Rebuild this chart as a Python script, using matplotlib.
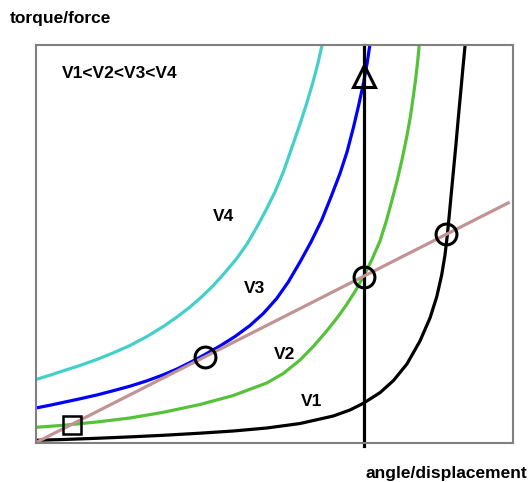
import matplotlib.pyplot as plt

plt.rcParams['font.family'] = ['Liberation Sans', 'DejaVu Sans']

# torque vs angle curves for four speeds (arbitrary units, 0-100)
v4_x = [0, 2.94, 5.72, 9.22, 12.73, 16.14, 19.71, 23.27, 26.69, 29.56, 32.29, 34.80, 37.17,
        39.62, 42.08, 44.23, 46.44, 48.22, 50.10, 51.85, 53.46, 55.35, 56.71, 58.13, 59.12, 60.02]
v4_y = [15.83, 16.91, 18.02, 19.35, 20.85, 22.49, 24.37, 26.63, 29.15, 31.53, 34.05, 36.68, 39.45,
        42.71, 46.23, 49.87, 54.40, 58.42, 62.94, 67.96, 73.49, 80.03, 85.05, 90.83, 95.35, 100.13]

v3_x = [0, 2.94, 5.72, 9.22, 12.73, 16.14, 19.71, 23.27, 26.69, 29.56, 32.29, 35.43, 38.57, 41.72, 44.86,
        47.65, 50.46, 52.89, 55.35, 57.65, 59.90, 61.84, 63.73, 65.20, 66.52, 67.61, 68.62, 69.39, 70.02]
v3_y = [8.67, 9.37, 10.08, 10.98, 11.93, 12.99, 14.15, 15.50, 17.01, 18.47, 20.10, 22.11, 24.25, 26.63, 29.40,
        32.41, 36.18, 40.33, 45.35, 50.38, 55.90, 61.68, 67.59, 72.99, 79.02, 84.55, 90.08, 95.10, 100.13]

v2_x = [0, 5.72, 12.73, 19.71, 26.69, 34.38, 41.36, 48.37, 51.85, 55.35, 58.13, 60.94, 63.10, 65.13,
        66.88, 68.62, 70.38, 72.12, 73.38, 74.53, 75.63, 76.67, 77.72, 78.51, 79.14, 79.62, 80.02, 80.36]
v2_y = [3.82, 4.32, 5.15, 6.16, 7.59, 9.55, 11.81, 14.95, 17.34, 20.73, 24.12, 28.02, 31.28, 34.67,
        37.94, 41.66, 45.85, 50.63, 55.40, 60.43, 65.45, 70.73, 76.76, 82.04, 87.31, 91.58, 95.85, 100.13]

v1_x = [0, 5.72, 12.73, 19.71, 26.69, 34.38, 41.36, 48.37, 55.35, 62.33, 65.83, 68.62, 72.16, 74.95,
        77.76, 80.50, 82.60, 84.00, 85.05, 85.74, 86.21, 86.54, 87.21, 88.01, 88.55, 89.02, 89.48, 89.98]
v1_y = [0.55, 0.75, 1.06, 1.41, 1.81, 2.34, 2.89, 3.64, 4.77, 6.66, 8.17, 9.85, 12.56, 15.58,
        19.72, 25.50, 31.28, 36.56, 42.09, 47.11, 51.88, 55.90, 64.45, 74.50, 81.78, 87.81, 93.84, 100.13]

# load line
load_x = [0, 99.0]
load_y = [0, 60.2]

# operating points
op_x = [35.4, 68.8, 86.0]
op_y = [21.5, 41.7, 52.3]
start_x, start_y = 7.5, 4.5
stall_x = 68.7
arrow_y = 92.1

fig = plt.figure(figsize=(5.32, 4.82), dpi=100)
ax = fig.add_axes([36/532, 1 - 442.5/482, 477/532, 398/482])
ax.set_xlim(0, 100)
ax.set_ylim(0, 100)
ax.set_xticks([])
ax.set_yticks([])
for s in ax.spines.values():
    s.set_color('#808080')
    s.set_linewidth(1.5)

lw = 2.3
ax.plot(v4_x, v4_y, color='#45CFC9', lw=lw)
ax.plot(v3_x, v3_y, color='#0000FF', lw=lw)
ax.plot(v2_x, v2_y, color='#55C23A', lw=lw)
ax.plot(v1_x, v1_y, color='black', lw=lw)

ax.plot([stall_x, stall_x], [-1.0, 100], color='black', lw=lw, clip_on=False)
ax.plot(load_x, load_y, color='#C29393', lw=lw)

ax.plot(op_x, op_y, 'o', ms=15, mfc='none', mec='black', mew=2.2)
ax.plot(start_x, start_y, 's', ms=13, mfc='none', mec='black', mew=1.8)
ax.plot(stall_x, arrow_y, '^', ms=16, mfc='none', mec='black', mew=2.2)

fs = 12.5
ax.text(39.4, 56.9, 'V4', ha='center', va='center', fontsize=fs, fontweight='bold')
ax.text(45.9, 38.6, 'V3', ha='center', va='center', fontsize=fs, fontweight='bold')
ax.text(52.2, 22.0, 'V2', ha='center', va='center', fontsize=fs, fontweight='bold')
ax.text(57.7, 10.4, 'V1', ha='center', va='center', fontsize=fs, fontweight='bold')
ax.text(5.4, 91.5, 'V1<V2<V3<V4', ha='left', va='baseline', fontsize=fs, fontweight='bold')

fig.text(10/532, 1 - 22.5/482, 'torque/force', ha='left', va='baseline',
         fontsize=fs, fontweight='bold')
fig.text(365/532, 1 - 478.3/482, 'angle/displacement', ha='left', va='baseline',
         fontsize=fs, fontweight='bold')

fig.savefig('out.png', dpi=100)
